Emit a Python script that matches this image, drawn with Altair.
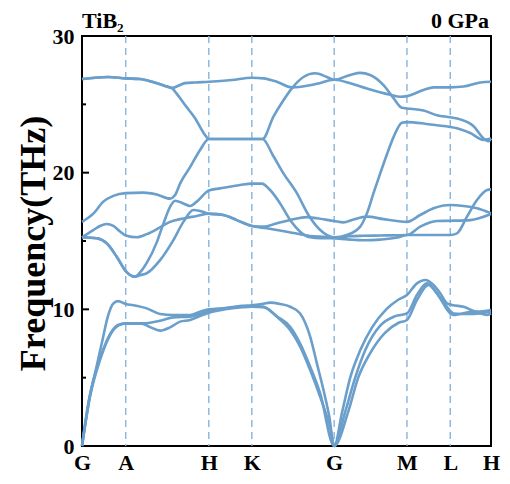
import altair as alt
import pandas as pd

# high-symmetry points along the path (arbitrary path-length units)
sym_k = [0, 43.7, 126.7, 169.7, 252, 324.7, 368, 408.7]
sym_labels = ["G", "A", "H", "K", "G", "M", "L", "H"]

y_major = [10, 20]
y_minor = [5, 15, 25]

# acoustic branches
ac1_k = [0, 6, 13, 19.7, 26.3, 31, 36, 43.7, 51.3, 64.7, 78, 91.3, 108, 118, 126.7, 143, 159.7, 169.7,
         181.3, 188, 198, 208, 218, 228, 234.7, 241.3, 247, 252, 260, 268, 278, 290, 304, 316, 324.7,
         334.7, 343, 351.3, 358, 364.7, 369.7, 381.3, 394.7, 408.7]
ac1_f = [0, 3.0, 5.3, 7.5, 9.6, 10.4, 10.6, 10.39, 10.3, 10.07, 9.66, 9.58, 9.58, 9.83, 10.0, 10.1, 10.25, 10.3,
         10.4, 10.49, 10.39, 10.19, 9.7, 8.0, 6.05, 4.1, 2.2, 0, 2.5, 5.0, 7.0, 8.7, 10.0, 10.7, 11.05,
         11.9, 12.15, 11.78, 11.17, 10.44, 10.32, 10.19, 9.83, 9.95]

ac2_k = [0, 9, 19, 29, 36, 43.7, 59.7, 78, 91.3, 108, 118, 126.7, 143, 159.7, 169.7, 181.3, 194.7, 208, 218,
         228, 238, 252, 263, 273, 283, 298, 313, 324.7, 334.7, 344.7, 354.7, 364.7, 371.3, 388, 408.7]
ac2_f = [0, 4.1, 6.6, 8.3, 8.85, 8.97, 8.97, 9.17, 9.41, 9.46, 9.66, 9.88, 10.05, 10.2, 10.22, 10.19, 9.5, 8.73, 7.5,
         5.8, 3.85, 0, 2.5, 5.0, 7.0, 8.8, 9.5, 9.7, 11.05, 11.9, 11.17, 10.19, 9.7, 9.66, 9.83]

ac3_k = [0, 8, 18, 28, 36, 43.7, 59.7, 68, 78, 88, 98, 108, 118, 126.7, 143, 159.7, 169.7, 181.3, 194.7, 208,
         218, 228, 238, 248, 252, 266, 276, 288, 303, 316, 324.7, 334.7, 346.3, 358, 366.3, 371.3, 391.3,
         404.7, 408.7]
ac3_f = [0, 3.6, 6.3, 8.1, 8.8, 8.97, 8.95, 8.7, 8.44, 8.68, 9.1, 9.22, 9.51, 9.75, 10.0, 10.15, 10.2, 10.15, 9.46, 8.49,
         7.27, 5.56, 3.6, 1.3, 0, 2.5, 5.0, 6.8, 8.3, 9.0, 9.22, 10.68, 11.78, 10.8, 9.83, 9.58, 9.83,
         9.58, 9.7]

# optical branches
o1_k = [0, 14.7, 24.7, 34.7, 43.7, 53, 58, 64.7, 78, 91.3, 101.3, 111.3, 118, 126.7, 141.3, 154.7, 169.7, 184.7,
        204.7, 228, 244.7, 252, 268, 281, 298, 315, 324.7, 348, 368, 374.7, 384.7, 394.7, 404.7, 408.7]
o1_f = [15.27, 15.2, 14.83, 13.85, 12.8, 12.39, 12.5, 12.64, 13.6, 15.07, 16.4, 17.27, 17.2, 17.0, 16.9, 16.53, 16.1, 15.93,
        15.68, 15.37, 15.27, 15.2, 15.1, 15.05, 15.1, 15.25, 15.44, 15.44, 15.44, 15.56, 16.78, 18.0, 18.73, 18.78]

o2_k = [0, 11.3, 18, 24.7, 31.3, 38, 43.7, 54.7, 64.7, 78, 88, 101.3, 114.7, 126.7, 141.3, 154.7, 169.7, 181.3, 195,
        208, 224.7, 234.7, 252, 261.3, 271.3, 284.7, 301.3, 314.7, 324.7, 338, 351.3, 368, 381.3, 394.7, 408.7]
o2_f = [15.27, 15.8, 16.1, 16.24, 16.1, 15.7, 15.4, 15.27, 15.5, 16.0, 16.4, 16.65, 16.83, 17.0, 16.9, 16.53, 16.1, 16.05, 16.3,
        16.53, 16.75, 16.66, 16.46, 16.36, 16.58, 16.78, 16.6, 16.46, 16.4, 16.9, 17.39, 17.63, 17.56, 17.39, 17.02]

o3_k = [0, 14.7, 24.7, 34.7, 43.7, 53, 58, 64.7, 74.7, 81, 88, 93, 101.3, 108, 114.7, 124.7, 126.7, 138, 158, 169.7,
        179.7, 188, 198, 208, 218, 228, 238, 252, 268, 281, 298, 324.7, 338, 354.7, 368, 388, 408.7]
o3_f = [15.27, 15.2, 14.83, 13.85, 12.8, 12.39, 12.7, 13.4, 14.9, 16.2, 17.5, 17.95, 17.75, 17.56, 17.88, 18.6, 18.7, 18.85, 19.1, 19.2,
        19.2, 18.73, 17.75, 16.53, 15.68, 15.27, 15.2, 15.2, 15.35, 15.38, 15.4, 15.44, 16.05, 16.46, 16.48, 16.53, 16.97]

o4_k = [0, 11.3, 21.3, 31.3, 43.7, 61.3, 74.7, 88, 93, 98, 108, 118, 126.7, 148, 169.7, 180.3, 191.3, 201.3, 214.7,
        226.3, 238, 252, 264.7, 278, 284.7, 291.3, 298, 306.3, 311.3, 319.7, 324.7, 341.3, 351.3, 374.7, 388,
        401.3, 408.7]
o4_f = [16.4, 17.0, 17.88, 18.3, 18.5, 18.54, 18.4, 18.1, 18.36, 19.2, 20.4, 21.66, 22.46, 22.46, 22.46, 22.46, 21.2, 19.95, 18.5,
        16.9, 15.8, 15.27, 15.44, 16.05, 17.02, 18.5, 19.95, 21.66, 22.6, 23.65, 23.7, 23.6, 23.5, 23.25, 22.9,
        22.4, 22.5]

o5_k = [0, 13, 26, 43.7, 58, 70, 83, 89.7, 93, 103, 113, 123, 126.7, 148, 169.7, 180.3, 191.3, 201.3, 209.7, 221.3,
        233, 244.7, 252, 268, 278, 288, 301.3, 311.3, 319.7, 324.7, 341.3, 354.7, 368, 378, 391.3, 401.3, 406.3, 408.7]
o5_f = [26.85, 26.95, 27.0, 26.9, 26.85, 26.65, 26.35, 26.2, 25.93, 24.95, 23.98, 22.75, 22.46, 22.46, 22.46, 22.46, 24.1, 25.3, 26.17, 27.0,
        27.27, 27.0, 26.8, 27.15, 27.3, 27.15, 26.4, 25.45, 24.75, 24.7, 24.55, 24.2, 24.05, 23.9, 23.4, 22.5, 22.3, 22.5]

o6_k = [0, 13, 26, 43.7, 58, 70, 83, 89.7, 103, 113, 126.7, 149.7, 169.7, 181.3, 194.7, 209.7, 234.7, 252, 268,
        284.7, 308, 318, 324.7, 341.3, 351.3, 368, 381.3, 398, 408.7]
o6_f = [26.85, 26.95, 27.0, 26.9, 26.85, 26.65, 26.35, 26.2, 26.55, 26.6, 26.65, 26.78, 26.95, 26.9, 26.65, 26.24, 26.5, 26.8, 26.55,
        26.16, 25.7, 25.55, 25.6, 26.05, 26.24, 26.24, 26.3, 26.6, 26.65]

bands = [("ac1", ac1_k, ac1_f), ("ac2", ac2_k, ac2_f), ("ac3", ac3_k, ac3_f),
         ("o1", o1_k, o1_f), ("o2", o2_k, o2_f), ("o3", o3_k, o3_f),
         ("o4", o4_k, o4_f), ("o5", o5_k, o5_f), ("o6", o6_k, o6_f)]

rows = []
for name, ks, fs in bands:
    assert len(ks) == len(fs), name
    for i, (kk, ff) in enumerate(zip(ks, fs)):
        rows.append({"band": name, "k": kk, "f": ff, "order": i})
df = pd.DataFrame(rows)

FONT = "Liberation Serif"
BAND_COLOR = "#6a9ecb"
DASH_COLOR = "#86b4db"

label_expr = "".join(
    f"abs(datum.value - {k}) < 0.01 ? '{lab}' : " for k, lab in zip(sym_k, sym_labels)
) + "''"

xscale = alt.Scale(domain=[sym_k[0], sym_k[-1]], nice=False, zero=False)
yscale = alt.Scale(domain=[0, 30], nice=False)

x_axis = alt.Axis(values=sym_k, labelExpr=label_expr, title=None, ticks=False, domain=False,
                  grid=False, labelFont=FONT, labelFontSize=22, labelFontWeight="bold",
                  labelColor="black", labelPadding=6, labelFlush=False)
y_axis = alt.Axis(values=[0, 10, 20, 30], title="Frequency(THz)", ticks=False, domain=False,
                  grid=False, labelFont=FONT, labelFontSize=22, labelFontWeight="bold",
                  labelColor="black", labelPadding=8, labelFlush=False,
                  titleFont=FONT, titleFontSize=36, titleFontWeight="bold", titleColor="black",
                  titleAngle=270, titleX=-38, titleY=207, titleAlign="center",
                  titleBaseline="alphabetic")

vlines = alt.Chart(pd.DataFrame({"k": sym_k[1:-1]})).mark_rule(
    color=DASH_COLOR, strokeDash=[7, 5], strokeWidth=1.4
).encode(x=alt.X("k:Q", scale=xscale, axis=x_axis))

lines = alt.Chart(df).mark_line(
    color=BAND_COLOR, strokeWidth=2.6, interpolate="monotone"
).encode(
    x=alt.X("k:Q", scale=xscale, axis=x_axis),
    y=alt.Y("f:Q", scale=yscale, axis=y_axis),
    detail="band:N",
    order="order:Q",
)

major_ticks = alt.Chart(pd.DataFrame({"f": y_major})).mark_rule(color="black", strokeWidth=2).encode(
    y=alt.Y("f:Q", scale=yscale, axis=y_axis), x=alt.value(0), x2=alt.value(7))
minor_ticks = alt.Chart(pd.DataFrame({"f": y_minor})).mark_rule(color="black", strokeWidth=2).encode(
    y=alt.Y("f:Q", scale=yscale, axis=y_axis), x=alt.value(0), x2=alt.value(4))

left_note = alt.Chart(pd.DataFrame({"t": ["TiB₂"]})).mark_text(
    align="left", baseline="alphabetic", font=FONT, fontSize=22, fontWeight="bold", color="black"
).encode(text="t:N", x=alt.value(0), y=alt.value(-8))
right_note = alt.Chart(pd.DataFrame({"t": ["0 GPa"]})).mark_text(
    align="right", baseline="alphabetic", font=FONT, fontSize=22, fontWeight="bold", color="black"
).encode(text="t:N", x=alt.value(407), y=alt.value(-8))

chart = alt.layer(vlines, lines, major_ticks, minor_ticks, left_note, right_note).properties(
    width=409, height=410,
    autosize=alt.AutoSizeParams(type="none"),
    padding={"left": 74, "top": 28, "right": 10, "bottom": 30},
    background="white",
).configure_view(stroke="black", strokeWidth=2)

chart.save("out.html", embed_options={"renderer": "svg", "actions": False})
